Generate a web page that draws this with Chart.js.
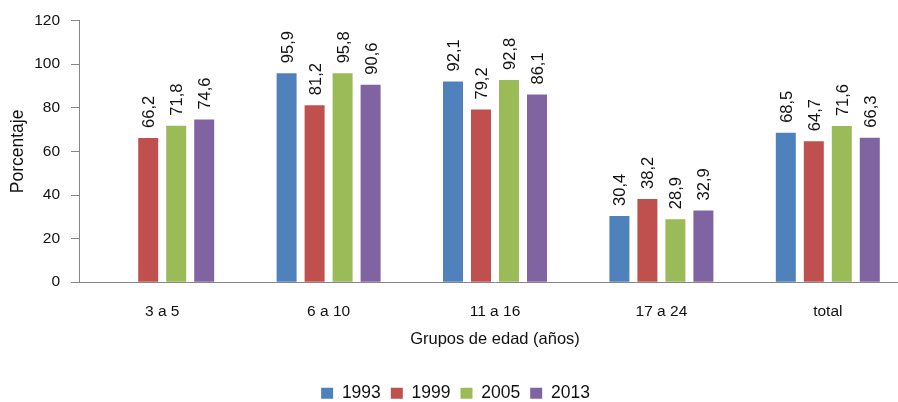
<!DOCTYPE html>
<html>
<head>
<meta charset="utf-8">
<script src="https://cdn.jsdelivr.net/npm/chart.js@4/dist/chart.umd.min.js"></script>
<style>
  html, body { margin: 0; padding: 0; background: #fff; overflow: hidden; }
  #wrap { width: 922px; height: 412px; }
</style>
</head>
<body>
<div id="wrap"><canvas id="myChart" width="922" height="412"></canvas></div>
<script>
// donnees
var GRUPOS = ['3 a 5', '6 a 10', '11 a 16', '17 a 24', 'total'];
var ANOS = ['1993', '1999', '2005', '2013'];
var V_1993 = [null, 95.9, 92.1, 30.4, 68.5];
var V_1999 = [66.2, 81.2, 79.2, 38.2, 64.7];
var V_2005 = [71.8, 95.8, 92.8, 28.9, 71.6];
var V_2013 = [74.6, 90.6, 86.1, 32.9, 66.3];
var Y_TICKS = [0, 20, 40, 60, 80, 100, 120];

var COLORES = ['#4F81BD', '#C0504D', '#9BBB59', '#8064A2'];
var FUENTE = '"Liberation Sans", Arial, sans-serif';
var GRIS = '#868686';

// etiquetas verticales encima de las barras
var etiquetas = {
  id: 'etiquetas',
  afterDatasetsDraw: function(chart){
    var ctx = chart.ctx;
    ctx.save();
    ctx.fillStyle = '#111';
    ctx.font = '16.5px ' + FUENTE;
    ctx.textAlign = 'left';
    ctx.textBaseline = 'middle';
    chart.data.datasets.forEach(function(ds, i){
      chart.getDatasetMeta(i).data.forEach(function(bar, j){
        var v = ds.data[j];
        if (v === null || v === undefined) return;
        ctx.save();
        ctx.translate(bar.x + 1.5, bar.y - 10);
        ctx.rotate(-Math.PI / 2);
        ctx.fillText(v.toFixed(1).replace('.', ','), 0, 0);
        ctx.restore();
      });
    });
    ctx.restore();
  }
};

var series = [V_1993, V_1999, V_2005, V_2013];

var ctx = document.getElementById('myChart').getContext('2d');
var chart = new Chart(ctx, {
  type: 'bar',
  data: {
    labels: GRUPOS,
    datasets: series.map(function(d, i){
      return {
        label: ANOS[i],
        data: d,
        backgroundColor: COLORES[i],
        borderWidth: 0,
        categoryPercentage: 0.673,
        barPercentage: 0.714
      };
    })
  },
  options: {
    responsive: false,
    animation: false,
    layout: { padding: { top: 20.6, right: 11, bottom: 0, left: 0 } },
    plugins: {
      legend: {
        position: 'bottom',
        labels: {
          boxWidth: 12,
          boxHeight: 11,
          padding: 10,
          color: '#111',
          font: { family: FUENTE, size: 17.5 }
        }
      },
      tooltip: { enabled: false }
    },
    scales: {
      x: {
        grid: { display: true, drawOnChartArea: false, drawTicks: false },
        border: { display: true, color: GRIS, width: 1 },
        ticks: { color: '#111', padding: 20, font: { family: FUENTE, size: 15.5 } },
        title: {
          display: true,
          text: 'Grupos de edad (años)',
          color: '#111',
          font: { family: FUENTE, size: 16.5 },
          padding: { top: 0, bottom: 25 }
        },
        afterFit: function(scale){ scale.height = 92.3; }
      },
      y: {
        min: 0,
        max: 120,
        afterBuildTicks: function(scale){
          scale.ticks = Y_TICKS.map(function(v){ return { value: v }; });
        },
        grid: { display: true, drawOnChartArea: false, drawTicks: true, tickLength: 8, color: GRIS },
        border: { display: true, color: GRIS, width: 1 },
        ticks: { color: '#111', padding: 11, font: { family: FUENTE, size: 15.5 } },
        title: {
          display: true,
          text: 'Porcentaje',
          color: '#111',
          font: { family: FUENTE, size: 17.5 },
          padding: { top: 8, bottom: 0 }
        },
        afterFit: function(scale){ scale.width = 79; }
      }
    }
  },
  plugins: [etiquetas]
});
</script>
</body>
</html>
